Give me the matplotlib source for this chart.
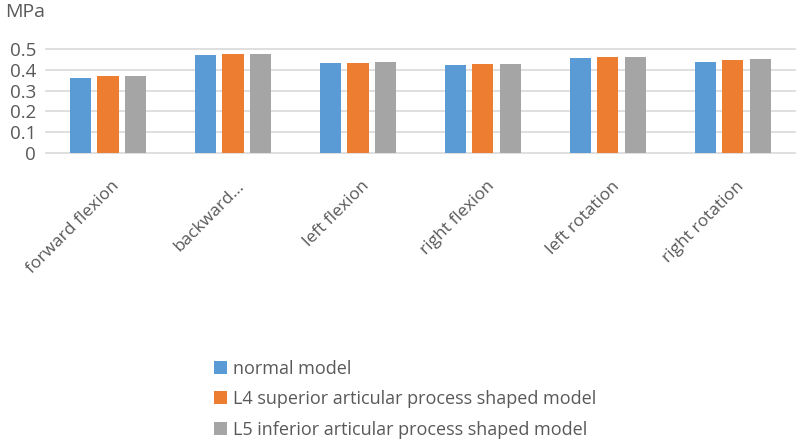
import matplotlib.pyplot as plt
import matplotlib.transforms as mtransforms
import numpy as np

categories = ["forward flexion", "backward...", "left flexion", "right flexion",
              "left rotation", "right rotation"]
normal_model = [0.36, 0.47, 0.435, 0.423, 0.455, 0.438]
l4_model = [0.37, 0.478, 0.435, 0.43, 0.464, 0.445]
l5_model = [0.37, 0.478, 0.44, 0.43, 0.464, 0.45]
series_names = ["normal model",
                "L4 superior articular process shaped model",
                "L5 inferior articular process shaped model"]
colors = ["#5B9BD5", "#ED7D31", "#A5A5A5"]
yticks = [0, 0.1, 0.2, 0.3, 0.4, 0.5]

plt.rcParams['font.family'] = ['Open Sans', 'DejaVu Sans']
text_color = "#595959"

fig = plt.figure(figsize=(8, 4.46), dpi=100)
ax = fig.add_axes([0.057, 0.657, 0.937, 0.233])

x = np.arange(len(categories))
width = 0.17
step = 0.22
for i, (vals, name, c) in enumerate(zip([normal_model, l4_model, l5_model], series_names, colors)):
    ax.bar(x + (i - 1) * step, vals, width, color=c, label=name, zorder=3)

ax.set_xlim(-0.5, len(categories) - 0.5)
ax.set_ylim(0, 0.5)
ax.set_yticks(yticks)
ax.set_yticklabels(["0", "0.1", "0.2", "0.3", "0.4", "0.5"], fontsize=13.5, color=text_color)
ax.yaxis.grid(True, color="#d9d9d9", linewidth=1.2, zorder=0)
for g in ax.yaxis.get_gridlines():
    g.set_clip_on(False)
for s in ax.spines.values():
    s.set_visible(False)
ax.tick_params(axis='both', length=0)
ax.tick_params(axis='y', pad=7)

ax.set_xticks(x)
ax.set_xticklabels(categories, rotation=45, ha='right', va='center',
                   rotation_mode='anchor', fontsize=12.5, color=text_color)
offset = mtransforms.ScaledTranslation(9 / 100, -26 / 100, fig.dpi_scale_trans)
for lab in ax.get_xticklabels():
    lab.set_transform(lab.get_transform() + offset)

fig.text(0.007, 0.972, "MPa", fontsize=14, color=text_color, va='center', ha='left')

fig.legend(loc='upper left', bbox_to_anchor=(0.256, 0.214), frameon=False,
           borderpad=0, handlelength=0.72, handleheight=0.72, handletextpad=0.35,
           labelspacing=0.7, fontsize=13, labelcolor=text_color)

fig.savefig("out.png", dpi=100)
